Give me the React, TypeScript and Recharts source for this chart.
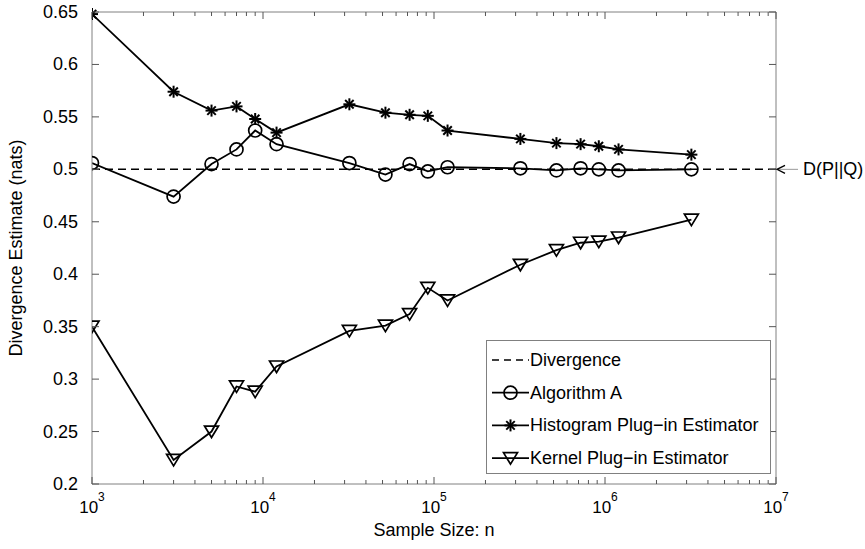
import React from 'react';
import {
  ComposedChart, Line, XAxis, YAxis, ReferenceLine, ReferenceDot, Legend,
} from 'recharts';

// sample sizes n and the three estimates at each n
const sampleSizes = [
  1000, 3000, 5000, 7000, 9000, 12000, 32000, 52000, 72000, 92000,
  120000, 320000, 520000, 720000, 920000, 1200000, 3200000,
];
const algorithmA = [
  0.506, 0.474, 0.505, 0.519, 0.537, 0.524, 0.506, 0.495, 0.505, 0.498,
  0.502, 0.501, 0.499, 0.501, 0.5, 0.499, 0.5,
];
const histogramPlugIn = [
  0.648, 0.574, 0.556, 0.56, 0.548, 0.535, 0.562, 0.554, 0.552, 0.551,
  0.537, 0.529, 0.525, 0.524, 0.522, 0.519, 0.514,
];
const kernelPlugIn = [
  0.35, 0.223, 0.25, 0.293, 0.288, 0.312, 0.346, 0.351, 0.362, 0.387,
  0.375, 0.409, 0.423, 0.43, 0.431, 0.435, 0.452,
];
const trueDivergence = 0.5;

const yTicks = [0.2, 0.25, 0.3, 0.35, 0.4, 0.45, 0.5, 0.55, 0.6, 0.65];
const xDecades = [1e3, 1e4, 1e5, 1e6, 1e7];
const xMultipliers = [1, 2, 3, 4, 5, 6, 7, 8, 9];

const xTicks = [
  ...xDecades.slice(0, -1).flatMap((d) => xMultipliers.map((m) => m * d)),
  xDecades[xDecades.length - 1],
];

const rows = sampleSizes.map((n, i) => ({
  n,
  algA: algorithmA[i],
  hist: histogramPlugIn[i],
  kernel: kernelPlugIn[i],
}));

const W = 865;
const H = 549;
const MARGIN = { top: 12, right: 89, bottom: 25, left: 32 };
const PLOT_TOP = MARGIN.top;
const PLOT_RIGHT = W - MARGIN.right;

const FONT = '"Liberation Sans", Arial, sans-serif';
const FRAME = '#808080';
const TICK = '#555';
const LINE_W = 1.8;

// markers, MATLAB style: open circle, asterisk, down triangle
const Circle = ({ cx, cy }: { cx: number; cy: number }) => (
  <circle cx={cx} cy={cy} r={6.5} fill="none" stroke="#000" strokeWidth={1.7} />
);

const Asterisk = ({ cx, cy }: { cx: number; cy: number }) => {
  const r = 6;
  const d = r * Math.SQRT1_2;
  return (
    <g stroke="#000" strokeWidth={2}>
      <line x1={cx - r} y1={cy} x2={cx + r} y2={cy} />
      <line x1={cx} y1={cy - r} x2={cx} y2={cy + r} />
      <line x1={cx - d} y1={cy - d} x2={cx + d} y2={cy + d} />
      <line x1={cx - d} y1={cy + d} x2={cx + d} y2={cy - d} />
    </g>
  );
};

const TriangleDown = ({ cx, cy }: { cx: number; cy: number }) => (
  <polygon
    points={`${cx - 7},${cy - 5.5} ${cx + 7},${cy - 5.5} ${cx},${cy + 6}`}
    fill="none"
    stroke="#000"
    strokeWidth={1.7}
    strokeLinejoin="miter"
  />
);

const dotOf = (Marker: React.FC<{ cx: number; cy: number }>, key: string) =>
  (p: any) => <Marker key={`${key}-${p.index}`} cx={p.cx} cy={p.cy} />;

// bottom ticks point inwards; the same tick is mirrored on the top edge
const BottomTick = (props: any) => {
  const { x, y, payload } = props;
  const major = xDecades.includes(payload.value);
  const len = major ? 7 : 4;
  const exp = Math.round(Math.log10(payload.value));
  return (
    <g>
      <line x1={x} y1={y} x2={x} y2={y - len} stroke={TICK} />
      <line x1={x} y1={PLOT_TOP} x2={x} y2={PLOT_TOP + len} stroke={TICK} />
      {major && (
        <text x={x} y={y + 29} textAnchor="middle" fontSize={17} fontFamily={FONT} fill="#000">
          10<tspan dy={-12} fontSize={12}>{exp}</tspan>
        </text>
      )}
    </g>
  );
};

const LeftTick = (props: any) => {
  const { x, y, payload } = props;
  return (
    <g>
      <line x1={x} y1={y} x2={x + 7} y2={y} stroke={TICK} />
      <line x1={PLOT_RIGHT} y1={y} x2={PLOT_RIGHT - 7} y2={y} stroke={TICK} />
      <text x={x - 14} y={y + 6} textAnchor="end" fontSize={18} fontFamily={FONT} fill="#000">
        {String(payload.value)}
      </text>
    </g>
  );
};

const legendItems = [
  { label: 'Divergence', dashed: true, Marker: null },
  { label: 'Algorithm A', dashed: false, Marker: Circle },
  { label: 'Histogram Plug\u2212in Estimator', dashed: false, Marker: Asterisk },
  { label: 'Kernel Plug\u2212in Estimator', dashed: false, Marker: TriangleDown },
];

const LegendBox = () => (
  <svg width={285} height={134} style={{ display: 'block' }}>
    <rect x={0.5} y={0.5} width={284} height={133} fill="#fff" stroke={FRAME} />
    {legendItems.map((it, i) => {
      const cy = 20 + i * 32.7;
      const M = it.Marker;
      return (
        <g key={it.label}>
          <line
            x1={6} y1={cy} x2={43} y2={cy}
            stroke="#000" strokeWidth={it.dashed ? 1.5 : LINE_W}
            strokeDasharray={it.dashed ? '7 5' : undefined}
          />
          {M && <M cx={24.5} cy={cy} />}
          <text x={44} y={cy + 6} fontSize={18} fontFamily={FONT} fill="#000">{it.label}</text>
        </g>
      );
    })}
  </svg>
);

// arrow pointing at the true value on the right edge
const TrueValueNote = (props: any) => {
  const { cx, cy } = props;
  return (
    <g>
      <line x1={cx + 2} y1={cy} x2={cx + 22} y2={cy} stroke="#999" strokeWidth={1} />
      <path d={`M${cx + 9},${cy - 4} L${cx + 1},${cy} L${cx + 9},${cy + 4}`} fill="none" stroke="#000" strokeWidth={1.3} />
      <text x={cx + 27} y={cy + 6} fontSize={18} fontFamily={FONT} fill="#000">D(P||Q)</text>
    </g>
  );
};

export default function App() {
  return (
    <div style={{ position: 'absolute', left: 0, top: 0, width: W, height: H, background: '#fff' }}>
      <ComposedChart width={W} height={H} data={rows} margin={MARGIN}>
        <XAxis
          dataKey="n"
          type="number"
          scale="log"
          domain={[1e3, 1e7]}
          allowDataOverflow
          ticks={xTicks}
          interval={0}
          height={40}
          tickSize={0}
          tickMargin={0}
          tickLine={false}
          axisLine={{ stroke: FRAME }}
          tick={BottomTick}
          label={{
            content: (p: any) => (
              <text
                x={p.viewBox.x + p.viewBox.width / 2}
                y={p.viewBox.y + 52}
                textAnchor="middle"
                fontSize={18}
                fontFamily={FONT}
                fill="#000"
              >
                Sample Size: n
              </text>
            ),
          }}
        />
        <YAxis
          type="number"
          domain={[0.2, 0.65]}
          ticks={yTicks}
          interval={0}
          width={60}
          tickSize={0}
          tickMargin={0}
          tickLine={false}
          axisLine={{ stroke: FRAME }}
          tick={LeftTick}
          label={{
            content: (p: any) => {
              const cx = 22;
              const cy = p.viewBox.y + p.viewBox.height / 2;
              return (
                <text
                  x={cx}
                  y={cy}
                  transform={`rotate(-90 ${cx} ${cy})`}
                  textAnchor="middle"
                  fontSize={18}
                  fontFamily={FONT}
                  fill="#000"
                >
                  Divergence Estimate (nats)
                </text>
              );
            },
          }}
        />
        {/* top and right frame edges */}
        <ReferenceLine y={0.65} stroke={FRAME} ifOverflow="visible" />
        <ReferenceLine x={1e7} stroke={FRAME} ifOverflow="visible" />
        <ReferenceLine y={trueDivergence} stroke="#000" strokeWidth={1.5} strokeDasharray="8 5" />
        <Line
          dataKey="algA"
          name="Algorithm A"
          stroke="#000"
          strokeWidth={LINE_W}
          dot={dotOf(Circle, 'a')}
          activeDot={false}
          isAnimationActive={false}
        />
        <Line
          dataKey="hist"
          name="Histogram Plug-in Estimator"
          stroke="#000"
          strokeWidth={LINE_W}
          dot={dotOf(Asterisk, 'h')}
          activeDot={false}
          isAnimationActive={false}
        />
        <Line
          dataKey="kernel"
          name="Kernel Plug-in Estimator"
          stroke="#000"
          strokeWidth={LINE_W}
          dot={dotOf(TriangleDown, 'k')}
          activeDot={false}
          isAnimationActive={false}
        />
        <ReferenceDot
          x={1e7}
          y={trueDivergence}
          r={0}
          ifOverflow="visible"
          shape={TrueValueNote}
        />
        <Legend
          layout="vertical"
          align="center"
          verticalAlign="middle"
          content={LegendBox}
          wrapperStyle={{ position: 'absolute', left: 486, top: 340, width: 285, height: 134 }}
        />
      </ComposedChart>
    </div>
  );
}
